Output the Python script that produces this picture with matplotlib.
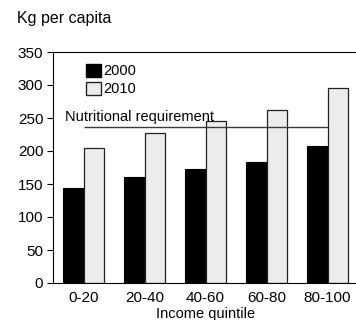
import numpy as np
import matplotlib
matplotlib.use("Agg")
import matplotlib.pyplot as plt
from matplotlib.patches import Patch

plt.rcParams["font.family"] = ["Liberation Sans", "DejaVu Sans"]

quintiles = ["0-20", "20-40", "40-60", "60-80", "80-100"]
kg_2000 = [144, 160, 172, 184, 207]
kg_2010 = [205, 228, 245, 262, 295]
requirement = 237

fig = plt.figure(figsize=(3.56, 3.20), dpi=100)
ax = fig.add_axes([53 / 356, 37 / 320, 305 / 356, 231 / 320])

x = np.arange(len(quintiles))
w = 0.34
ax.bar(x - w / 2, kg_2000, w, color="black", edgecolor="black", linewidth=0.8, label="2000")
ax.bar(x + w / 2, kg_2010, w, color="#ececec", edgecolor="#222222", linewidth=0.9, label="2010")

ax.hlines(requirement, x[0], x[-1], color="#3a3a3a", linewidth=1.0, zorder=3)
ax.text(-0.3, requirement + 15, "Nutritional requirement", fontsize=10.5,
        va="center", ha="left")

ax.set_xlim(-0.5, 4.5)
ax.set_ylim(0, 350)
ax.set_yticks(range(0, 351, 50))
ax.set_xticks(x)
ax.set_xticklabels(quintiles)
ax.tick_params(axis="y", length=4, width=0.8, labelsize=11, pad=3)
ax.tick_params(axis="x", length=0, labelsize=11, pad=6)
ax.set_xlabel("Income quintile", fontsize=10.5, labelpad=1)
for s in ax.spines.values():
    s.set_linewidth(0.8)

handles = [Patch(facecolor="black", edgecolor="black", label="2000"),
           Patch(facecolor="#ececec", edgecolor="#222222", label="2010")]
ax.legend(handles=handles, loc="upper left", bbox_to_anchor=(0.09, 0.975),
          frameon=False, fontsize=10.5, handlelength=1.0, handleheight=1.0,
          handletextpad=0.15, labelspacing=0.25, borderaxespad=0)

fig.text(17 / 356, 1 - 19 / 320, "Kg per capita", fontsize=11.5, va="center", ha="left")

fig.savefig("out.png", dpi=100)
